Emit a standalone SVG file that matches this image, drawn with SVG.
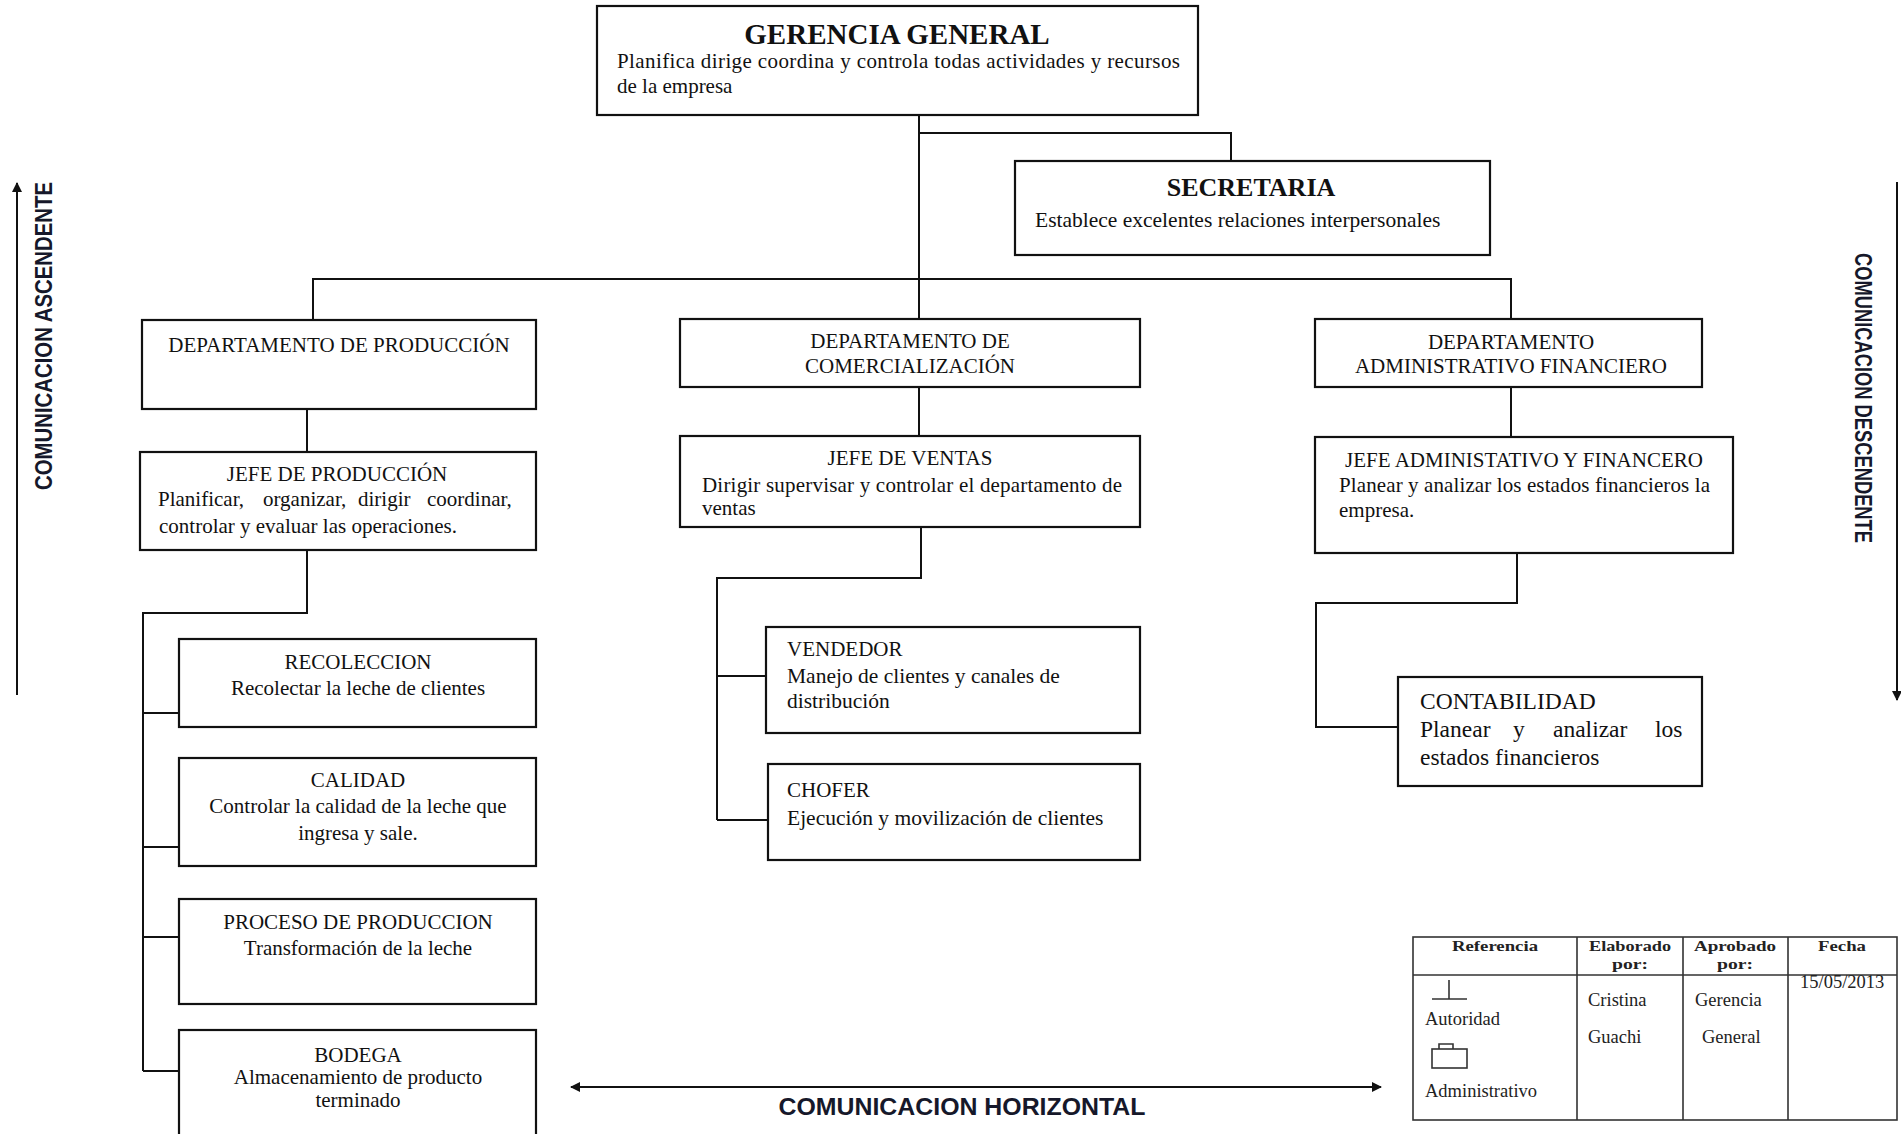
<svg xmlns="http://www.w3.org/2000/svg" width="1901" height="1134" viewBox="0 0 1901 1134">
  <style>
    .box { fill: #ffffff; stroke: #111111; stroke-width: 2.2; }
    .conn { fill: none; stroke: #111111; stroke-width: 2; }
    .t { font-family: "Liberation Serif", "Times New Roman", serif; font-size: 21px; fill: #111111; }
    .c { text-anchor: middle; }
    .title { font-weight: bold; }
    .flow { font-family: "Liberation Sans Narrow", "Liberation Sans", Arial, sans-serif; font-weight: bold; font-size: 23px; fill: #16182a; }
    .grid { fill: none; stroke: #333333; stroke-width: 1.6; }
    .lg { font-family: "Liberation Serif", "Times New Roman", serif; font-size: 18.5px; fill: #222222; }
    .lgb { font-weight: bold; text-anchor: middle; font-size: 15.5px; }
  </style>
  <defs>
    <marker id="head" viewBox="0 0 10 10" refX="9" refY="5" markerWidth="10" markerHeight="10" markerUnits="userSpaceOnUse" orient="auto-start-reverse">
      <path d="M0,0 L10,5 L0,10 Z" fill="#111111"/>
    </marker>
  </defs>

  <rect width="1901" height="1134" fill="#ffffff"/>

  <!-- reporting lines -->
  <g id="connectors">
    <path class="conn" d="M919,115 V319"/>
    <path class="conn" d="M919,133 H1231 V161"/>
    <path class="conn" d="M313,319 V279 H1511 V319"/>
    <path class="conn" d="M307,409 V452"/>
    <path class="conn" d="M307,550 V613 H143 V1071"/>
    <path class="conn" d="M143,713 H179 M143,847 H179 M143,937 H179 M143,1071 H179"/>
    <path class="conn" d="M919,387 V436"/>
    <path class="conn" d="M921,527 V578 H717 V820"/>
    <path class="conn" d="M717,676 H766 M717,820 H768"/>
    <path class="conn" d="M1511,387 V437"/>
    <path class="conn" d="M1517,553 V603 H1316 V727 H1398"/>
  </g>

  <g id="gerencia-general">
    <rect class="box" x="597" y="6" width="601" height="109"/>
    <text class="t c title" x="897" y="44" style="font-size:29px">GERENCIA GENERAL</text>
    <text class="t" x="617" y="68" textLength="563" lengthAdjust="spacing">Planifica dirige coordina y controla todas actividades y recursos</text>
    <text class="t" x="617" y="93">de la empresa</text>
  </g>

  <g id="secretaria">
    <rect class="box" x="1015" y="161" width="475" height="94"/>
    <text class="t c title" x="1251" y="196" style="font-size:26px">SECRETARIA</text>
    <text class="t" x="1035" y="227" style="font-size:21.5px">Establece excelentes relaciones interpersonales</text>
  </g>

  <g id="dep-produccion">
    <rect class="box" x="142" y="320" width="394" height="89"/>
    <text class="t c" x="339" y="352">DEPARTAMENTO DE PRODUCCIÓN</text>
  </g>

  <g id="jefe-produccion">
    <rect class="box" x="140" y="452" width="396" height="98"/>
    <text class="t c" x="337" y="481">JEFE DE PRODUCCIÓN</text>
    <text class="t" y="506"><tspan x="158">Planificar,</tspan><tspan x="263">organizar,</tspan><tspan x="358">dirigir</tspan><tspan x="427">coordinar,</tspan></text>
    <text class="t" x="159" y="533">controlar y evaluar las operaciones.</text>
  </g>

  <g id="recoleccion">
    <rect class="box" x="179" y="639" width="357" height="88"/>
    <text class="t c" x="358" y="669">RECOLECCION</text>
    <text class="t c" x="358" y="695">Recolectar la leche de clientes</text>
  </g>

  <g id="calidad">
    <rect class="box" x="179" y="758" width="357" height="108"/>
    <text class="t c" x="358" y="787">CALIDAD</text>
    <text class="t c" x="358" y="813">Controlar la calidad de la leche que</text>
    <text class="t c" x="358" y="840">ingresa y sale.</text>
  </g>

  <g id="proceso-produccion">
    <rect class="box" x="179" y="899" width="357" height="105"/>
    <text class="t c" x="358" y="929">PROCESO DE PRODUCCION</text>
    <text class="t c" x="358" y="955">Transformación de la leche</text>
  </g>

  <g id="bodega">
    <rect class="box" x="179" y="1030" width="357" height="124"/>
    <text class="t c" x="358" y="1062">BODEGA</text>
    <text class="t c" x="358" y="1084">Almacenamiento de producto</text>
    <text class="t c" x="358" y="1107">terminado</text>
  </g>

  <g id="dep-comercializacion">
    <rect class="box" x="680" y="319" width="460" height="68"/>
    <text class="t c" x="910" y="348">DEPARTAMENTO DE</text>
    <text class="t c" x="910" y="373">COMERCIALIZACIÓN</text>
  </g>

  <g id="jefe-ventas">
    <rect class="box" x="680" y="436" width="460" height="91"/>
    <text class="t c" x="910" y="465">JEFE DE VENTAS</text>
    <text class="t" x="702" y="492" textLength="420" lengthAdjust="spacing">Dirigir supervisar y controlar el departamento de</text>
    <text class="t" x="702" y="515">ventas</text>
  </g>

  <g id="vendedor">
    <rect class="box" x="766" y="627" width="374" height="106"/>
    <text class="t" x="787" y="656">VENDEDOR</text>
    <text class="t" x="787" y="683" style="font-size:21.5px">Manejo de clientes y canales de</text>
    <text class="t" x="787" y="708" style="font-size:21.5px">distribución</text>
  </g>

  <g id="chofer">
    <rect class="box" x="768" y="764" width="372" height="96"/>
    <text class="t" x="787" y="797">CHOFER</text>
    <text class="t" x="787" y="825" style="font-size:21.5px">Ejecución y movilización de clientes</text>
  </g>

  <g id="dep-administrativo">
    <rect class="box" x="1315" y="319" width="387" height="68"/>
    <text class="t c" x="1511" y="349">DEPARTAMENTO</text>
    <text class="t c" x="1511" y="373">ADMINISTRATIVO FINANCIERO</text>
  </g>

  <g id="jefe-administrativo">
    <rect class="box" x="1315" y="437" width="418" height="116"/>
    <text class="t c" x="1524" y="467">JEFE ADMINISTATIVO Y FINANCERO</text>
    <text class="t" x="1339" y="492" textLength="371" lengthAdjust="spacing">Planear y analizar los estados financieros la</text>
    <text class="t" x="1339" y="517">empresa.</text>
  </g>

  <g id="contabilidad">
    <rect class="box" x="1398" y="677" width="304" height="109"/>
    <text class="t" x="1420" y="709" style="font-size:23.5px">CONTABILIDAD</text>
    <text class="t" y="737" style="font-size:23.5px"><tspan x="1420">Planear</tspan><tspan x="1513">y</tspan><tspan x="1553">analizar</tspan><tspan x="1655">los</tspan></text>
    <text class="t" x="1420" y="765" style="font-size:23.5px">estados financieros</text>
  </g>

  <!-- communication flows -->
  <g id="flujo-ascendente">
    <line class="conn" x1="17" y1="695" x2="17" y2="183" marker-end="url(#head)"/>
    <text class="flow" transform="translate(52,336) rotate(-90)" text-anchor="middle" textLength="308" lengthAdjust="spacingAndGlyphs">COMUNICACION ASCENDENTE</text>
  </g>
  <g id="flujo-descendente">
    <line class="conn" x1="1897" y1="182" x2="1897" y2="700" marker-end="url(#head)"/>
    <text class="flow" transform="translate(1855,398) rotate(90)" text-anchor="middle" textLength="290" lengthAdjust="spacingAndGlyphs">COMUNICACION DESCENDENTE</text>
  </g>
  <g id="flujo-horizontal">
    <line class="conn" x1="571" y1="1087" x2="1381" y2="1087" marker-start="url(#head)" marker-end="url(#head)"/>
    <text class="flow" x="962" y="1115" text-anchor="middle" textLength="367" lengthAdjust="spacingAndGlyphs">COMUNICACION HORIZONTAL</text>
  </g>

  <!-- reference table -->
  <g id="tabla-referencia">
    <rect class="grid" x="1413" y="937" width="484" height="183"/>
    <path class="grid" d="M1413,975 H1897 M1577,937 V1120 M1683,937 V1120 M1788,937 V1120"/>
    <text class="lg lgb" x="1495" y="951" textLength="86" lengthAdjust="spacingAndGlyphs">Referencia</text>
    <text class="lg lgb" x="1630" y="951" textLength="82" lengthAdjust="spacingAndGlyphs">Elaborado</text>
    <text class="lg lgb" x="1630" y="969" textLength="36" lengthAdjust="spacingAndGlyphs">por:</text>
    <text class="lg lgb" x="1735" y="951" textLength="82" lengthAdjust="spacingAndGlyphs">Aprobado</text>
    <text class="lg lgb" x="1735" y="969" textLength="36" lengthAdjust="spacingAndGlyphs">por:</text>
    <text class="lg lgb" x="1842" y="951" textLength="48" lengthAdjust="spacingAndGlyphs">Fecha</text>
    <path class="grid" d="M1432,999 H1467 M1449,980 V999" stroke-width="1.4"/>
    <text class="lg" x="1425" y="1025">Autoridad</text>
    <rect class="grid" x="1432" y="1049" width="35" height="19" stroke-width="1.4"/>
    <path class="grid" d="M1439,1049 V1044 H1453 V1049" stroke-width="1.4"/>
    <text class="lg" x="1425" y="1097">Administrativo</text>
    <text class="lg" x="1588" y="1006">Cristina</text>
    <text class="lg" x="1588" y="1043">Guachi</text>
    <text class="lg" x="1695" y="1006">Gerencia</text>
    <text class="lg" x="1702" y="1043">General</text>
    <text class="lg" x="1800" y="988">15/05/2013</text>
  </g>
</svg>
